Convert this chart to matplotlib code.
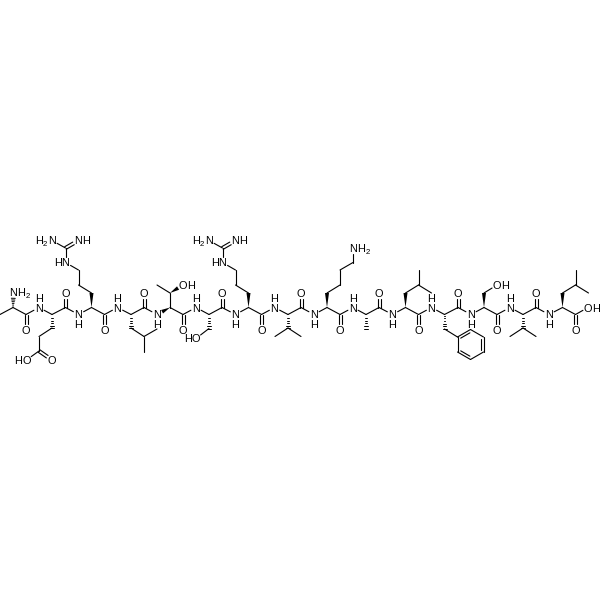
import numpy as np
import matplotlib
matplotlib.use("Agg")
import matplotlib.pyplot as plt

plt.rcParams['font.family'] = ['Liberation Sans', 'DejaVu Sans']

# backbone atoms, left to right: CH3, then CA, C, N of every residue, then the acid O
backbone_x = [0, 13, 26, 39, 52, 65.5, 78.5, 91.5, 104.5, 117.5, 131, 144, 157, 170, 183, 196, 209, 222, 235.5, 248.5,
              261.5, 274.5, 288, 301, 314, 327, 340, 353, 366, 379, 392.5, 405.5, 418.5, 431.5, 444.5, 458, 471,
              484, 497, 510, 523, 536, 549, 562.5, 575.5, 588]
backbone_y = [314.5, 307.5, 314.5, 307.5, 314.5, 307.5, 314.5, 307.5, 314.5, 307.5, 314.5, 307.5, 314.5, 307.5,
              314.5, 307.5, 314.5, 307.5, 314.5, 307.5, 314.5, 307.5, 314.5, 307.5, 314.5, 307.5, 314.5, 307.5,
              314.5, 307.5, 314.5, 307.5, 314.5, 307.5, 314.5, 307.5, 314.5, 307.5, 314.5, 307.5, 314.5, 307.5,
              314.5, 307.5, 314.5, 307.5]
nitrogen_idx = [3, 6, 9, 12, 15, 18, 21, 24, 27, 30, 33, 36, 39, 42]
carbonyl_idx = [2, 5, 8, 11, 14, 17, 20, 23, 26, 29, 32, 35, 38, 41, 44]

# side chain atoms
atoms = {
    "n_term": (13.5, 292.5),
    "e_b": (52, 328), "e_g": (39, 336.5), "e_d": (39, 351), "e_o1": (52, 360), "e_o2": (26.5, 360),
    "r1_b": (91.5, 293), "r1_g": (78.5, 285), "r1_d": (78.5, 270), "r1_e": (65.5, 262.5), "r1_z": (65.5, 248),
    "r1_n1": (52, 240.5), "r1_n2": (78.5, 240.5),
    "l1_b": (131, 328), "l1_g": (144, 336.5), "l1_d1": (157, 329), "l1_d2": (144, 351.5),
    "t_b": (170, 293), "t_o": (183, 285), "t_m": (157, 285),
    "s1_b": (209, 328.5), "s1_o": (196, 338.5),
    "r2_b": (248.5, 293), "r2_g": (235.5, 285), "r2_d": (235.5, 270), "r2_e": (222.5, 262.5), "r2_z": (222.5, 248),
    "r2_n1": (209, 240.5), "r2_n2": (235.5, 240.5),
    "v1_b": (288, 328), "v1_g1": (275, 336.5), "v1_g2": (301, 336.5),
    "k_b": (327, 293), "k_g": (340, 285), "k_d": (340, 270), "k_e": (353, 262.5), "k_n": (353, 248.5),
    "a2_b": (366, 328.5),
    "l2_b": (405.5, 293), "l2_g": (418.5, 285), "l2_d1": (418.5, 270), "l2_d2": (431.5, 293),
    "f_b": (444.5, 329), "f_1": (457.5, 337), "f_2": (470.5, 329.5), "f_3": (483.5, 337), "f_4": (483.5, 352),
    "f_5": (470.5, 359.5), "f_6": (457.5, 352),
    "s2_b": (484, 293), "s2_o": (497, 285),
    "v2_b": (523, 328), "v2_g1": (510, 336.5), "v2_g2": (536, 336.5),
    "l3_b": (562.5, 293), "l3_g": (575.5, 285), "l3_d1": (575.5, 270), "l3_d2": (588.5, 293),
}
single_bonds = [
    ("e_b", "e_g"), ("e_g", "e_d"), ("e_d", "e_o2"),
    ("r1_b", "r1_g"), ("r1_g", "r1_d"), ("r1_d", "r1_e"), ("r1_e", "r1_z"), ("r1_z", "r1_n1"),
    ("l1_b", "l1_g"), ("l1_g", "l1_d1"), ("l1_g", "l1_d2"),
    ("t_b", "t_m"),
    ("s1_b", "s1_o"),
    ("r2_b", "r2_g"), ("r2_g", "r2_d"), ("r2_d", "r2_e"), ("r2_e", "r2_z"), ("r2_z", "r2_n1"),
    ("v1_b", "v1_g1"), ("v1_b", "v1_g2"),
    ("k_b", "k_g"), ("k_g", "k_d"), ("k_d", "k_e"), ("k_e", "k_n"),
    ("l2_b", "l2_g"), ("l2_g", "l2_d1"), ("l2_g", "l2_d2"),
    ("f_b", "f_1"), ("f_2", "f_3"), ("f_4", "f_5"), ("f_6", "f_1"),
    ("s2_b", "s2_o"),
    ("v2_b", "v2_g1"), ("v2_b", "v2_g2"),
    ("l3_b", "l3_g"), ("l3_g", "l3_d1"), ("l3_g", "l3_d2"),
]
double_bonds = [("e_d", "e_o1"), ("r1_z", "r1_n2"), ("r2_z", "r2_n2")]
ring_double_bonds = [("f_1", "f_2"), ("f_3", "f_4"), ("f_5", "f_6")]
# (backbone index, side chain atom)
hash_bonds = [(1, "n_term"), (4, "e_b"), (10, "l1_b"), (16, "s1_b"), (22, "v1_b"), (28, "a2_b"), (34, "f_b"),
              (40, "v2_b")]
wedge_bonds = [(7, "r1_b"), (19, "r2_b"), (25, "k_b"), (31, "l2_b"), (37, "s2_b"), (43, "l3_b"), (13, 12),
               ("t_b", "t_o")]
plain_stereo = [(13, "t_b")]

# label text, atom, direction the H's run from the heteroatom
atom_labels = [
    ("NH2", "n_term", "right"), ("HO", "e_o2", "left"), ("O", "e_o1", "right"),
    ("H2N", "r1_n1", "left"), ("NH", "r1_n2", "right"), ("HN", "r1_e", "left"),
    ("OH", "t_o", "right"), ("HO", "s1_o", "left"),
    ("H2N", "r2_n1", "left"), ("NH", "r2_n2", "right"), ("HN", "r2_e", "left"),
    ("NH2", "k_n", "right"), ("OH", "s2_o", "right"),
]

BOND_LW = 0.8
FONT = 7.9
TRIM = 5.8
GLYPH = {"H": 7.8, "N": 7.8, "O": 8.2, "2": 5.5}

fig = plt.figure(figsize=(6, 6), dpi=100)
ax = fig.add_axes([0, 0, 1, 1])
ax.set_xlim(0, 600)
ax.set_ylim(600, 0)
ax.axis("off")


def point(a):
    if isinstance(a, str):
        return np.array(atoms[a], dtype=float)
    return np.array([backbone_x[a], backbone_y[a]], dtype=float)


labelled = {a[1] for a in atom_labels} | set(nitrogen_idx) | {45}


def trimmed(a, b):
    p, q = point(a), point(b)
    u = (q - p) / np.linalg.norm(q - p)
    if a in labelled:
        p = p + u * TRIM
    if b in labelled:
        q = q - u * TRIM
    return p, q


def line(p, q, lw=BOND_LW):
    ax.plot([p[0], q[0]], [p[1], q[1]], color="black", lw=lw, solid_capstyle="round")


def single(a, b):
    p, q = trimmed(a, b)
    line(p, q)


def double(a, b, gap=1.5):
    p, q = trimmed(a, b)
    u = (q - p) / np.linalg.norm(q - p)
    n = np.array([-u[1], u[0]])
    line(p + n * gap, q + n * gap)
    line(p - n * gap, q - n * gap)


def ring_double(a, b, centre):
    p, q = point(a), point(b)
    line(p, q)
    u = (q - p) / np.linalg.norm(q - p)
    n = np.array([-u[1], u[0]])
    if np.dot(centre - p, n) < 0:
        n = -n
    line(p + n * 2.6 + u * 2.2, q + n * 2.6 - u * 2.2)


def wedge(a, b, w=2.0):
    p, q = trimmed(a, b)
    u = (q - p) / np.linalg.norm(q - p)
    n = np.array([-u[1], u[0]])
    ax.fill([p[0], q[0] + n[0] * w, q[0] - n[0] * w], [p[1], q[1] + n[1] * w, q[1] - n[1] * w],
            color="black", lw=0)


def hashed(a, b, w=2.0, count=6):
    p, q = trimmed(a, b)
    u = (q - p) / np.linalg.norm(q - p)
    n = np.array([-u[1], u[0]])
    for t in np.linspace(0.08, 1, count):
        c = p + (q - p) * t
        line(c + n * w * t, c - n * w * t, lw=0.7)


def put(ch, x, y, size=FONT):
    ax.text(x, y, ch, ha="center", va="center_baseline", fontsize=size, color="black", clip_on=False)


def label(text, a, side):
    x, y = point(a)
    # the heteroatom sits on the atom position, the rest runs away from it
    chars = list(text)
    if side == "left":
        chars = chars[::-1]
    sign = 1 if side == "right" else -1
    cur = x
    for i, ch in enumerate(chars):
        if i > 0:
            cur += sign * (GLYPH[chars[i - 1]] + GLYPH[ch]) / 2
        if ch == "2":
            put(ch, cur, y + 2.5, FONT * 0.72)
        else:
            put(ch, cur, y)


# backbone, the Thr CA-N bond is drawn as a wedge further down
for i in range(len(backbone_x) - 1):
    if i != 12:
        single(i, i + 1)

# carbonyls, one up or down from each C
for k, i in enumerate(carbonyl_idx):
    x, y = point(i)
    o = (x, 292.7) if backbone_y[i] < 310 else (x, 330)
    atoms["co%d" % k] = o
    labelled.add("co%d" % k)
    double(i, "co%d" % k)
    put("O", o[0], o[1])

for a, b in single_bonds:
    single(a, b)
for a, b in double_bonds:
    double(a, b)
ring_centre = np.mean([point("f_%d" % i) for i in range(1, 7)], axis=0)
for a, b in ring_double_bonds:
    ring_double(a, b, ring_centre)
for a, b in wedge_bonds:
    wedge(a, b)
for a, b in hash_bonds:
    hashed(a, b)
for a, b in plain_stereo:
    single(a, b)

# amide N-H labels
for i in nitrogen_idx:
    x, y = point(i)
    put("N", x, y)
    put("H", x, y - 10 if backbone_y[i] < 310 else y + 10)

for text, a, side in atom_labels:
    label(text, a, side)
label("OH", 45, "right")

fig.savefig("out.png", dpi=100, facecolor="white")
